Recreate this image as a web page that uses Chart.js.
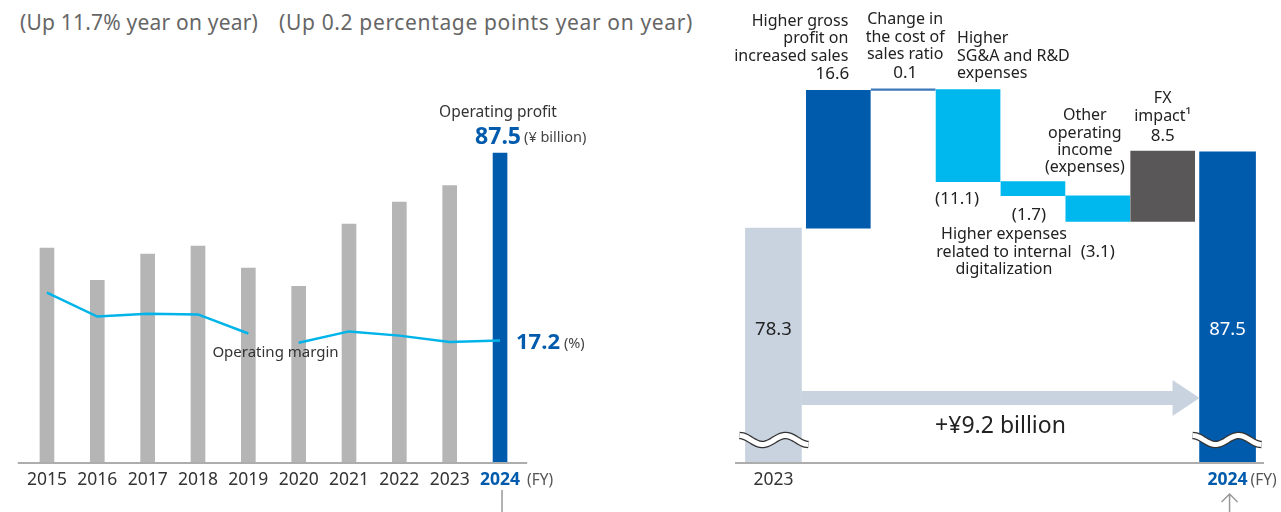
<!DOCTYPE html>
<html>
<head>
<meta charset="utf-8">
<script src="https://cdn.jsdelivr.net/npm/chart.js@4.4.1/dist/chart.umd.min.js"></script>
<style>
  html, body { margin: 0; padding: 0; background: #fff; }
  body { width: 1281px; height: 512px; position: relative; overflow: hidden; font-family: "Noto Sans", sans-serif; }
  .sub { position: absolute; top: 8px; font-size: 21px; line-height: 28px; color: #666; white-space: nowrap; }
  #left { position: absolute; left: 0; top: 0; width: 640px; height: 512px; }
  #right { position: absolute; left: 700px; top: 0; width: 581px; height: 512px; }
</style>
</head>
<body>
<div class="sub" style="left:20px; letter-spacing:0.2px">(Up 11.7% year on year)</div>
<div class="sub" style="left:279px; letter-spacing:0.65px">(Up 0.2 percentage points year on year)</div>
<div id="left"><canvas id="c1"></canvas></div>
<div id="right"><canvas id="c2"></canvas></div>
<script>
// ---- data ----
var years = ['2015', '2016', '2017', '2018', '2019', '2020', '2021', '2022', '2023', '2024'];
var opProfit = [60.6, 51.5, 58.9, 61.2, 54.9, 49.8, 67.4, 73.6, 78.3, 87.5]; // ¥ billion
var opMargin = [24.0, 20.6, 21.0, 20.9, 18.2, 16.9, 18.5, 17.9, 17.0, 17.2]; // %

var bridgeLabels = ['2023', '', '', '', '', '', '', '2024'];
var profitStart = 78.3;
var profitEnd = 87.5;
var stepValues = [16.6, 0.1, -11.1, -1.7, -3.1, 8.5];
var stepNotes = [
  ['Higher gross', 'profit on', 'increased sales'],
  ['Change in', 'the cost of', 'sales ratio'],
  ['Higher', 'SG&A and R&D', 'expenses'],
  ['Higher expenses', 'related to internal', 'digitalization'],
  ['Other', 'operating', 'income', '(expenses)'],
  ['FX', 'impact\u00b9']
];

// ---- styles ----
var FONT = '"Noto Sans", sans-serif';
var BLUE = '#005bac';
var GREY_BAR = '#b4b5b4';
var CYAN = '#00b8ee';
var PALE = '#c9d3df';
var TXT = '#222';
var stepColors = [BLUE, '#3d78bb', CYAN, CYAN, CYAN, '#595757'];

function fmt(v) {
  return v < 0 ? '(' + Math.abs(v).toFixed(1) + ')' : v.toFixed(1);
}
function font(size, bold) {
  return (bold ? 'bold ' : '') + size + 'px ' + FONT;
}
function textLines(ctx, arr, x, yLast, align, lh) {
  ctx.textAlign = align;
  ctx.textBaseline = 'middle';
  for (var i = 0; i < arr.length; i++) {
    ctx.fillText(arr[i], x, yLast - (arr.length - 1 - i) * lh);
  }
}
function tickFont(last) {
  return function(c) { return { family: FONT, size: 17.5, weight: c.index === last ? 'bold' : 'normal' }; };
}
function tickColor(last) {
  return function(c) { return c.index === last ? BLUE : '#333'; };
}

// ---- left: operating profit & margin ----
var leftDecor = {
  id: 'leftDecor',
  afterDraw: function(chart) {
    var ctx = chart.ctx, a = chart.chartArea;
    var bars = chart.getDatasetMeta(1).data;
    var pts = chart.getDatasetMeta(0).data;
    var n = bars.length - 1;
    ctx.save();
    // axis line
    ctx.strokeStyle = '#adadad';
    ctx.lineWidth = 2;
    ctx.beginPath();
    ctx.moveTo(a.left - 4, a.bottom + 1);
    ctx.lineTo(a.right + 2, a.bottom + 1);
    ctx.stroke();
    // pointer below last year
    ctx.lineWidth = 1.5;
    ctx.strokeStyle = '#999';
    ctx.beginPath();
    ctx.moveTo(bars[n].x + 2, a.bottom + 28);
    ctx.lineTo(bars[n].x + 2, 512);
    ctx.stroke();

    // operating profit label
    var b = bars[n];
    ctx.fillStyle = '#333';
    ctx.font = font(15.5);
    ctx.textAlign = 'center';
    ctx.textBaseline = 'middle';
    ctx.fillText('Operating profit', b.x - 2, b.y - 41);
    ctx.fillStyle = BLUE;
    ctx.font = font(23, true);
    ctx.textAlign = 'right';
    ctx.fillText(opProfit[n].toFixed(1), b.x + 21, b.y - 16);
    ctx.fillStyle = '#444';
    ctx.font = font(14.5);
    ctx.textAlign = 'left';
    ctx.fillText('(\u00a5 billion)', b.x + 24, b.y - 15);

    // operating margin labels
    var p = pts[n];
    ctx.fillStyle = BLUE;
    ctx.font = font(22, true);
    ctx.fillText(opMargin[n].toFixed(1), p.x + 16, p.y + 2);
    var w = ctx.measureText(opMargin[n].toFixed(1)).width;
    ctx.fillStyle = '#444';
    ctx.font = font(14.5);
    ctx.fillText('(%)', p.x + 20 + w, p.y + 3);

    ctx.fillStyle = '#333';
    ctx.font = font(15);
    ctx.textAlign = 'center';
    ctx.fillText('Operating margin', (pts[4].x + pts[5].x) / 2 + 2, (pts[4].y + pts[5].y) / 2 + 15);

    // (FY)
    ctx.fillStyle = '#555';
    ctx.font = font(15.5);
    ctx.textAlign = 'left';
    ctx.fillText('(FY)', b.x + 27, a.bottom + 19);
    ctx.restore();
  }
};

new Chart(document.getElementById('c1'), {
  data: {
    labels: years,
    datasets: [
      {
        type: 'line', label: 'Operating margin', data: opMargin, yAxisID: 'y2',
        borderColor: '#00b4ea', borderWidth: 2.5, pointRadius: 0, tension: 0, order: 1,
        segment: { borderColor: function(c) { return c.p0DataIndex === 4 ? 'rgba(0,0,0,0)' : '#00b4ea'; } }
      },
      {
        type: 'bar', label: 'Operating profit', data: opProfit, yAxisID: 'y', order: 2,
        backgroundColor: years.map(function(y, i) { return i === years.length - 1 ? BLUE : GREY_BAR; }),
        barThickness: 14
      }
    ]
  },
  options: {
    responsive: true, maintainAspectRatio: false, animation: false,
    layout: { padding: { top: 109, left: 21.8, right: 114.8, bottom: 0 } },
    plugins: { legend: { display: false }, tooltip: { enabled: false } },
    scales: {
      x: {
        grid: { display: false, drawTicks: false }, border: { display: false },
        ticks: { padding: 8, font: tickFont(9), color: tickColor(9), maxRotation: 0, autoSkip: false },
        afterFit: function(s) { s.height = 50; }
      },
      y: { display: false, min: 0, max: 100 },
      y2: { display: false, min: 0, max: 50 }
    }
  },
  plugins: [leftDecor]
});

// ---- right: profit bridge ----
var stepStart = [], stepEnd = [];
var run = profitStart;
stepValues.forEach(function(v) {
  stepStart.push(run);
  run = Math.round((run + v) * 10) / 10;
  stepEnd.push(run);
});
var totalsData = [profitStart, null, null, null, null, null, null, profitEnd];
var stepsData = [null].concat(stepValues.map(function(v, i) { return [stepStart[i], stepEnd[i]]; })).concat([null]);

function wave(ctx, x0, x1, cy) {
  ctx.beginPath();
  for (var i = 0; i <= 40; i++) {
    var t = i / 40;
    var x = x0 + (x1 - x0) * t;
    var y = cy - 4.5 * Math.cos(3 * Math.PI * t);
    if (i === 0) ctx.moveTo(x, y); else ctx.lineTo(x, y);
  }
  ctx.lineCap = 'butt';
  ctx.strokeStyle = '#333';
  ctx.lineWidth = 7.5;
  ctx.stroke();
  ctx.strokeStyle = '#fff';
  ctx.lineWidth = 5;
  ctx.stroke();
}

var rightDecor = {
  id: 'rightDecor',
  afterDraw: function(chart) {
    var ctx = chart.ctx, a = chart.chartArea;
    var tot = chart.getDatasetMeta(0).data;
    var st = chart.getDatasetMeta(1).data;
    var first = tot[0], last = tot[7];
    ctx.save();
    // axis line
    ctx.strokeStyle = '#adadad';
    ctx.lineWidth = 2;
    ctx.beginPath();
    ctx.moveTo(a.left - 6, a.bottom + 1);
    ctx.lineTo(a.right + 4, a.bottom + 1);
    ctx.stroke();

    // growth arrow between the two totals
    var ax0 = first.x + first.width / 2, ax1 = last.x - last.width / 2;
    var ay = a.bottom - 64;
    ctx.fillStyle = PALE;
    ctx.beginPath();
    ctx.moveTo(ax0, ay - 7);
    ctx.lineTo(ax1 - 27, ay - 7);
    ctx.lineTo(ax1 - 27, ay - 18);
    ctx.lineTo(ax1, ay);
    ctx.lineTo(ax1 - 27, ay + 18);
    ctx.lineTo(ax1 - 27, ay + 7);
    ctx.lineTo(ax0, ay + 7);
    ctx.closePath();
    ctx.fill();
    ctx.fillStyle = TXT;
    ctx.font = font(23);
    ctx.textAlign = 'center';
    ctx.textBaseline = 'middle';
    ctx.fillText('+\u00a5' + (profitEnd - profitStart).toFixed(1) + ' billion', (ax0 + ax1) / 2, ay + 28);

    // axis break marks
    wave(ctx, first.x - 34, first.x + 35, a.bottom - 22);
    wave(ctx, last.x - 35, last.x + 34, a.bottom - 22);

    // totals
    ctx.font = font(18.5);
    ctx.textAlign = 'center';
    ctx.fillStyle = TXT;
    ctx.fillText(profitStart.toFixed(1), first.x, a.bottom - 132);
    ctx.fillStyle = '#fff';
    ctx.fillText(profitEnd.toFixed(1), last.x, a.bottom - 132);

    // step labels
    var lh = 17.5, nf = 16, vf = 17;
    for (var i = 0; i < stepValues.length; i++) {
      var el = st[i + 1];
      var top = Math.min(el.y, el.base), bot = Math.max(el.y, el.base), cx = el.x;
      var val = fmt(stepValues[i]), notes = stepNotes[i];
      ctx.fillStyle = TXT;
      if (i === 0) {
        ctx.font = font(vf); textLines(ctx, [val], cx + 11, top - 16, 'right', lh);
        ctx.font = font(nf); textLines(ctx, notes, cx + 10, top - 34, 'right', lh);
      } else if (i === 1) {
        ctx.font = font(vf); textLines(ctx, [val], cx + 2, top - 16, 'center', lh);
        ctx.font = font(nf); textLines(ctx, notes, cx + 2, top - 34, 'center', lh);
      } else if (i === 2) {
        ctx.font = font(nf); textLines(ctx, notes, cx - 11, top - 16, 'left', lh);
        ctx.font = font(vf); textLines(ctx, [val], cx - 11, bot + 17, 'center', lh);
      } else if (i === 3) {
        ctx.font = font(vf); textLines(ctx, [val], cx - 4, bot + 19, 'center', lh);
        ctx.font = font(nf); textLines(ctx, notes, cx - 29, bot + 39 + 2 * lh, 'center', lh);
      } else if (i === 4) {
        ctx.font = font(nf); textLines(ctx, notes, cx - 13, top - 28, 'center', 17.3);
        ctx.font = font(vf); textLines(ctx, [val], cx, bot + 31, 'center', lh);
      } else {
        ctx.font = font(nf); textLines(ctx, notes, cx, top - 35, 'center', 18);
        ctx.font = font(vf); textLines(ctx, [val], cx, top - 15, 'center', lh);
      }
    }

    // (FY) and pointer arrow
    ctx.fillStyle = '#555';
    ctx.font = font(15.5);
    ctx.textAlign = 'left';
    ctx.fillText('(FY)', last.x + 23, a.bottom + 19);
    ctx.strokeStyle = '#999';
    ctx.lineWidth = 1.5;
    ctx.beginPath();
    ctx.moveTo(last.x + 2, a.bottom + 32);
    ctx.lineTo(last.x + 2, 512);
    ctx.moveTo(last.x - 6, a.bottom + 40);
    ctx.lineTo(last.x + 2, a.bottom + 32);
    ctx.lineTo(last.x + 10, a.bottom + 40);
    ctx.stroke();
    ctx.restore();
  }
};

new Chart(document.getElementById('c2'), {
  type: 'bar',
  data: {
    labels: bridgeLabels,
    datasets: [
      { label: 'Operating profit', data: totalsData, backgroundColor: [PALE, null, null, null, null, null, null, BLUE], barThickness: 56, grouped: false },
      { label: 'Change', data: stepsData, backgroundColor: [null].concat(stepColors).concat([null]), barThickness: 64, grouped: false, minBarLength: 1.5 }
    ]
  },
  options: {
    responsive: true, maintainAspectRatio: false, animation: false,
    layout: { padding: { top: 5, left: 41, right: 21, bottom: 0 } },
    plugins: { legend: { display: false }, tooltip: { enabled: false } },
    scales: {
      x: {
        grid: { display: false, drawTicks: false }, border: { display: false },
        ticks: { padding: 8, font: tickFont(7), color: tickColor(7), maxRotation: 0, autoSkip: false },
        afterFit: function(s) { s.height = 50; }
      },
      y: { display: false, min: 50.1, max: 105.2 }
    }
  },
  plugins: [rightDecor]
});
</script>
</body>
</html>
